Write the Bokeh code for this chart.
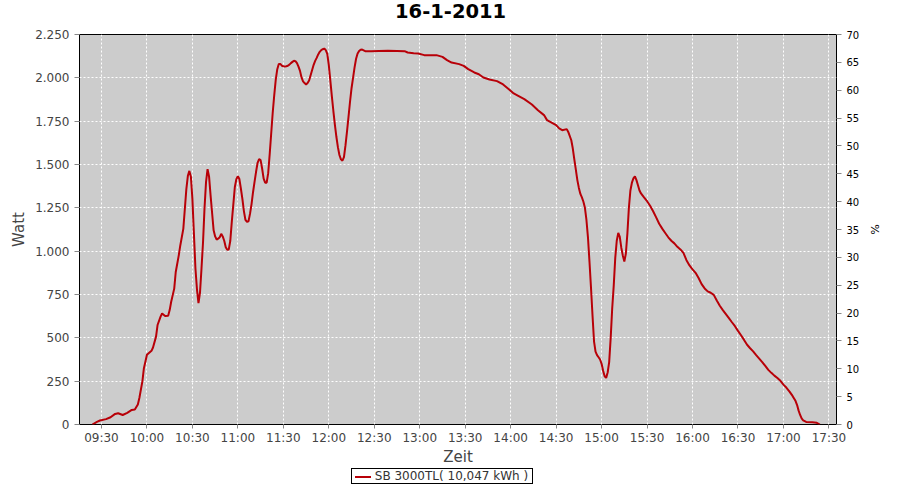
from bokeh.plotting import figure
from bokeh.models import Range1d, LinearAxis, FixedTicker, Div
from bokeh.layouts import column
from bokeh.embed import file_html
from bokeh.resources import INLINE

times = [
    "09:24", "09:27", "09:29", "09:33", "09:36", "09:39", "09:41", "09:44", "09:47", "09:50",
    "09:52", "09:54", "09:55", "09:57", "09:58", "10:00", "10:03", "10:04", "10:06", "10:07",
    "10:09", "10:10", "10:12", "10:14", "10:15", "10:16", "10:18", "10:19", "10:21", "10:22",
    "10:24", "10:25", "10:26", "10:27", "10:28", "10:29", "10:30", "10:31", "10:32", "10:33",
    "10:34", "10:35", "10:36", "10:37", "10:38", "10:39", "10:40", "10:41", "10:42", "10:43",
    "10:44", "10:45", "10:46", "10:47", "10:48", "10:49", "10:50", "10:51", "10:52", "10:53",
    "10:54", "10:55", "10:56", "10:57", "10:58", "10:59", "11:00", "11:01", "11:02", "11:03",
    "11:04", "11:05", "11:06", "11:07", "11:08", "11:09", "11:10", "11:11", "11:12", "11:13",
    "11:14", "11:15", "11:16", "11:17", "11:18", "11:19", "11:20", "11:21", "11:22", "11:23",
    "11:24", "11:25", "11:26", "11:27", "11:28", "11:29", "11:30", "11:31", "11:32", "11:33",
    "11:34", "11:35", "11:36", "11:37", "11:38", "11:39", "11:40", "11:41", "11:42", "11:43",
    "11:44", "11:45", "11:46", "11:47", "11:48", "11:49", "11:50", "11:51", "11:52", "11:53",
    "11:54", "11:55", "11:56", "11:57", "11:58", "11:59", "12:00", "12:01", "12:02", "12:03",
    "12:04", "12:05", "12:06", "12:07", "12:08", "12:09", "12:10", "12:11", "12:12", "12:13",
    "12:14", "12:15", "12:16", "12:17", "12:18", "12:19", "12:20", "12:21", "12:22", "12:24",
    "12:28", "12:33", "12:39", "12:45", "12:50", "12:52", "12:56", "12:59", "13:03", "13:07",
    "13:11", "13:15", "13:18", "13:21", "13:26", "13:29", "13:32", "13:36", "13:39", "13:42",
    "13:46", "13:51", "13:55", "13:59", "14:02", "14:05", "14:09", "14:14", "14:18", "14:22",
    "14:24", "14:27", "14:30", "14:32", "14:34", "14:37", "14:38", "14:40", "14:41", "14:42",
    "14:43", "14:44", "14:45", "14:46", "14:47", "14:48", "14:49", "14:50", "14:51", "14:52",
    "14:53", "14:54", "14:55", "14:56", "14:57", "14:58", "14:59", "15:00", "15:01", "15:02",
    "15:03", "15:04", "15:05", "15:06", "15:07", "15:08", "15:09", "15:10", "15:11", "15:12",
    "15:13", "15:14", "15:15", "15:16", "15:17", "15:18", "15:19", "15:20", "15:21", "15:22",
    "15:23", "15:24", "15:25", "15:26", "15:28", "15:30", "15:32", "15:34", "15:36", "15:38",
    "15:40", "15:42", "15:44", "15:46", "15:48", "15:50", "15:52", "15:54", "15:56", "15:58",
    "16:00", "16:02", "16:04", "16:06", "16:08", "16:10", "16:12", "16:14", "16:16", "16:18",
    "16:20", "16:22", "16:24", "16:26", "16:28", "16:30", "16:32", "16:34", "16:36", "16:38",
    "16:40", "16:42", "16:44", "16:46", "16:48", "16:50", "16:52", "16:54", "16:56", "16:58",
    "17:00", "17:02", "17:04", "17:06", "17:08", "17:09", "17:10", "17:11", "17:12", "17:13",
    "17:15", "17:19", "17:22", "17:24",
]

watts = [
    0, 15, 23, 31, 42, 61, 65, 55, 67, 84,
    86, 115, 153, 249, 325, 402, 425, 444, 507, 574,
    622, 641, 626, 627, 660, 708, 784, 880, 976, 1033,
    1129, 1243, 1358, 1435, 1463, 1430, 1300, 1100, 900, 780,
    700, 760, 900, 1050, 1250, 1400, 1473, 1430, 1320, 1220,
    1120, 1085, 1067, 1072, 1080, 1100, 1085, 1060, 1023, 1008,
    1010, 1060, 1170, 1270, 1370, 1415, 1433, 1416, 1360, 1300,
    1230, 1180, 1169, 1172, 1215, 1270, 1340, 1400, 1458, 1510,
    1531, 1525, 1477, 1419, 1395, 1395, 1450, 1560, 1680, 1800,
    1900, 1990, 2050, 2080, 2080, 2070, 2067, 2066, 2067, 2070,
    2076, 2085, 2092, 2098, 2096, 2085, 2065, 2040, 2002, 1980,
    1970, 1962, 1970, 1985, 2015, 2045, 2075, 2098, 2115, 2135,
    2150, 2160, 2165, 2169, 2160, 2138, 2073, 1985, 1895, 1810,
    1730, 1660, 1600, 1555, 1530, 1522, 1542, 1610, 1690, 1775,
    1862, 1940, 2000, 2060, 2110, 2140, 2155, 2162, 2163, 2154,
    2154, 2155, 2156, 2155, 2154, 2146, 2142, 2140, 2131, 2131,
    2131, 2121, 2102, 2088, 2079, 2069, 2050, 2031, 2021, 2002,
    1990, 1981, 1962, 1933, 1910, 1896, 1877, 1846, 1813, 1785,
    1756, 1742, 1727, 1708, 1698, 1704, 1688, 1640, 1592, 1530,
    1470, 1410, 1365, 1330, 1310, 1285, 1250, 1180, 1080, 940,
    790, 630, 480, 420, 400, 388, 375, 350, 310, 278,
    269, 300, 360, 500, 671, 800, 960, 1060, 1105, 1082,
    1020, 975, 940, 985, 1100, 1250, 1350, 1395, 1420, 1432,
    1410, 1380, 1350, 1333, 1310, 1288, 1262, 1230, 1195, 1158,
    1130, 1105, 1080, 1060, 1045, 1025, 1010, 990, 948, 918,
    895, 875, 845, 810, 785, 768, 760, 748, 715, 685,
    660, 637, 614, 590, 567, 540, 515, 488, 460, 440,
    422, 400, 380, 360, 338, 315, 298, 282, 268, 252,
    230, 212, 190, 165, 135, 112, 80, 55, 35, 24,
    15, 13, 10, 0,
]

series_label = "SB 3000TL( 10,047 kWh )"
title_text = "16-1-2011"
x_tick_labels = ["09:30", "10:00", "10:30", "11:00", "11:30", "12:00", "12:30", "13:00",
                 "13:30", "14:00", "14:30", "15:00", "15:30", "16:00", "16:30", "17:00", "17:30"]
y_ticks = [0, 250, 500, 750, 1000, 1250, 1500, 1750, 2000, 2250]
y_tick_labels = ["0", "250", "500", "750", "1.000", "1.250", "1.500", "1.750", "2.000", "2.250"]
pct_ticks = [0, 5, 10, 15, 20, 25, 30, 35, 40, 45, 50, 55, 60, 65, 70]

LINE_COLOR = "#b80008"


def to_min(s):
    h, m = s.split(":")
    return int(h) * 60 + int(m)


x = [to_min(t) for t in times]
x_ticks = [to_min(t) for t in x_tick_labels]

title_html = (
    '<div style="padding-left:395px;padding-top:0px;font-family:\'DejaVu Sans\';'
    'font-size:19.5px;font-weight:bold;line-height:24px;color:black;white-space:nowrap;">'
    + title_text + '</div>'
)
title_div = Div(text=title_html, width=884, height=29, margin=0)

p = figure(width=884, height=439, output_backend="svg", toolbar_location=None,
           x_range=Range1d(555.5, 1055.0), y_range=Range1d(0, 2250),
           min_border_left=79, min_border_right=44, min_border_top=5, min_border_bottom=42)
p.background_fill_color = "#cccccc"
p.border_fill_color = "white"
p.outline_line_color = "black"
p.outline_line_width = 1

r = p.line(x, watts, line_color=LINE_COLOR, line_width=2)

# x axis
xa = p.xaxis[0]
xa.ticker = FixedTicker(ticks=x_ticks)
xa.major_label_overrides = {t: l for t, l in zip(x_ticks, x_tick_labels)}
xa.axis_label = "Zeit"

# left axis
ya = p.yaxis[0]
ya.ticker = FixedTicker(ticks=y_ticks)
ya.major_label_overrides = {t: l for t, l in zip(y_ticks, y_tick_labels)}
ya.axis_label = "Watt"

for ax in (xa, ya):
    ax.axis_line_color = None
    ax.major_tick_line_color = "#888888"
    ax.major_tick_in = 0
    ax.minor_tick_line_color = None
    ax.major_label_text_font = "DejaVu Sans"
    ax.major_label_text_font_size = "12px"
    ax.major_label_text_color = "#444444"
    ax.axis_label_text_font = "DejaVu Sans"
    ax.axis_label_text_font_size = "15px"
    ax.axis_label_text_font_style = "normal"
    ax.axis_label_text_color = "#444444"
xa.major_tick_out = 4
xa.major_label_standoff = 2
xa.axis_label_standoff = 0
ya.major_tick_out = 5
ya.major_label_standoff = 5
ya.axis_label_standoff = 4

# right axis
p.extra_y_ranges = {"pct": Range1d(0, 70)}
ra = LinearAxis(y_range_name="pct", ticker=FixedTicker(ticks=pct_ticks), axis_label="%")
ra.axis_line_color = None
ra.major_tick_line_color = "#888888"
ra.major_tick_out = 5
ra.major_tick_in = 0
ra.minor_tick_line_color = None
ra.major_label_text_font = "DejaVu Sans"
ra.major_label_text_font_size = "10px"
ra.major_label_text_color = "black"
ra.major_label_standoff = 5
ra.axis_label_text_font = "DejaVu Sans"
ra.axis_label_text_font_size = "11px"
ra.axis_label_text_font_style = "normal"
ra.axis_label_text_color = "black"
ra.axis_label_standoff = 6
p.add_layout(ra, "right")

# grids
p.xgrid.ticker = FixedTicker(ticks=x_ticks)
p.ygrid.ticker = FixedTicker(ticks=y_ticks)
for g in (p.xgrid[0], p.ygrid[0]):
    g.grid_line_color = "white"
    g.grid_line_dash = "2 2"
    g.grid_line_width = 1

legend_html = (
    '<div style="width:868px;padding-left:16px;text-align:center;font-family:\'DejaVu Sans\';'
    'font-size:12px;color:#333333;">'
    '<span style="display:inline-block;border:1px solid black;padding:1px 4px 1px 3px;'
    'line-height:12px;background:white;">'
    '<span style="display:inline-block;width:16px;height:2px;background:' + LINE_COLOR + ';'
    'vertical-align:middle;margin-right:4px;"></span>' + series_label + '</span></div>'
)
legend_div = Div(text=legend_html, width=884, height=16, margin=0)

layout = column(title_div, p, legend_div, spacing=0)

open("out.html", "w").write(file_html(layout, INLINE))
